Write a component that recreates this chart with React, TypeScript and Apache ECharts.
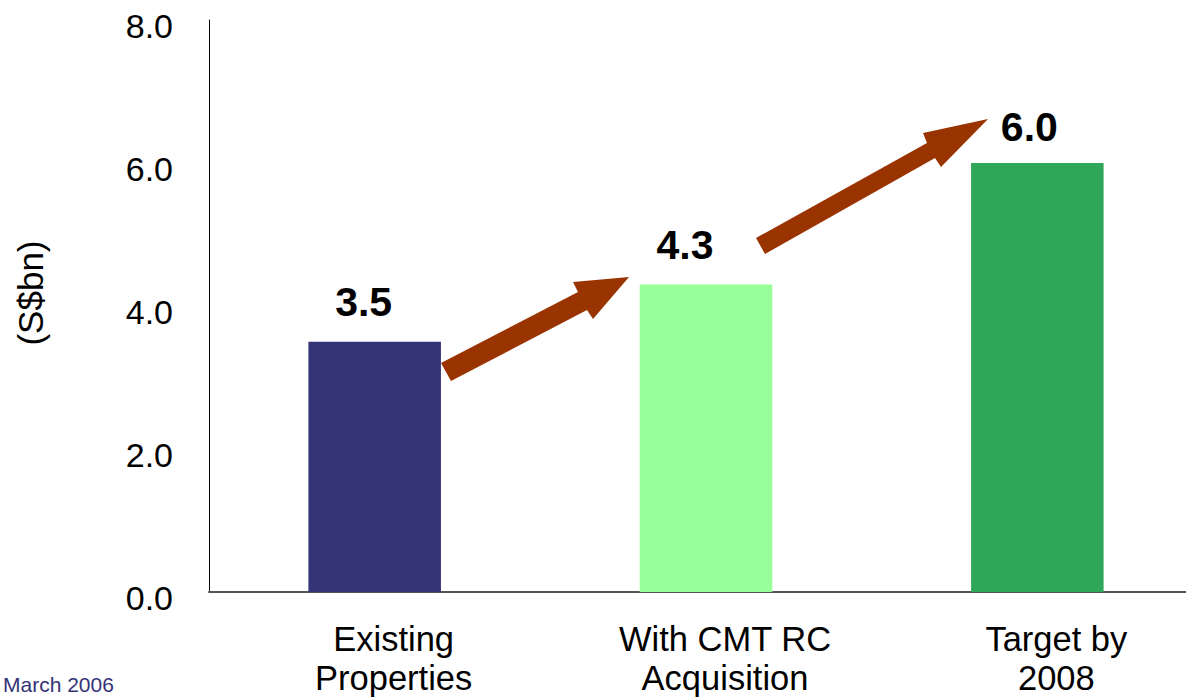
import React, { useEffect, useRef } from "react";
import * as echarts from "echarts";

const categories = ["Existing\nProperties", "With CMT RC\nAcquisition", "Target by\n2008"];
const values = [3.5, 4.3, 6.0];
const barColors = ["#333377", "#99FF99", "#2EA858"];
const yTicks = [0, 2, 4, 6, 8];
const yAxisName = "(S$bn)";
const footnote = "March 2006";

const FONT = "'Liberation Sans', Arial, sans-serif";

export default function App() {
  const ref = useRef<HTMLDivElement>(null);
  useEffect(() => {
    const chart = echarts.init(ref.current!, null, { renderer: "svg" });
    const labelOffsets = [[-11, 0], [-21, 0], [-8, 3]];
    const arrow1 = [[441, 363], [578, 292], [573, 282], [629, 277], [593, 319], [587, 310], [451, 381]];
    const arrow2 = [[756, 238], [927, 143], [923, 133], [988, 119], [941, 167], [935, 158], [765, 254]];
    chart.setOption({
      animation: false,
      backgroundColor: "#ffffff",
      grid: { left: 209, right: 0, top: 20, bottom: 97, containLabel: false },
      xAxis: {
        type: "category",
        data: categories,
        axisLine: { show: true, lineStyle: { color: "#555", width: 2 } },
        axisTick: { show: false },
        axisLabel: {
          color: "#000",
          fontFamily: FONT,
          fontSize: 34.5,
          lineHeight: 39,
          margin: 27,
          padding: [0, 0, 0, 38],
          interval: 0,
        },
      },
      yAxis: {
        type: "value",
        min: yTicks[0],
        max: yTicks[yTicks.length - 1],
        interval: 2,
        axisLine: { show: true, lineStyle: { color: "#000", width: 1 } },
        axisTick: { show: false },
        splitLine: { show: false },
        axisLabel: {
          color: "#000",
          fontFamily: FONT,
          fontSize: 34,
          margin: 36,
          formatter: (v: number) => "{a|" + v.toFixed(1) + "}",
          rich: {
            a: {
              fontFamily: FONT,
              fontSize: 34,
              color: "#000",
              padding: [12, 0, 0, 0],
            },
          },
        },
      },
      series: [
        {
          type: "bar",
          barCategoryGap: "60%",
          data: values.map((v, i) => ({
            value: v,
            itemStyle: { color: barColors[i] },
            label: { offset: labelOffsets[i] },
          })),
          label: {
            show: true,
            position: "top",
            distance: 19,
            color: "#000",
            fontFamily: FONT,
            fontWeight: "bold",
            fontSize: 41,
            formatter: (p: any) => Number(p.value).toFixed(1),
          },
        },
      ],
      graphic: [
        {
          type: "polygon",
          shape: { points: arrow1 },
          style: { fill: "#993300" },
        },
        {
          type: "polygon",
          shape: { points: arrow2 },
          style: { fill: "#993300" },
        },
        {
          type: "text",
          x: 30,
          y: 293,
          rotation: Math.PI / 2,
          style: {
            text: yAxisName,
            fontFamily: FONT,
            fontSize: 35,
            fill: "#000",
            align: "center",
            verticalAlign: "middle",
          },
        },
        {
          type: "text",
          x: 3,
          y: 684,
          style: {
            text: footnote,
            fontFamily: FONT,
            fontSize: 21,
            fill: "#333377",
            align: "left",
            verticalAlign: "middle",
          },
        },
      ],
    });
    return () => chart.dispose();
  }, []);
  return (
    <div
      ref={ref}
      style={{ position: "fixed", left: 0, top: 0, width: 1203, height: 697 }}
    />
  );
}
